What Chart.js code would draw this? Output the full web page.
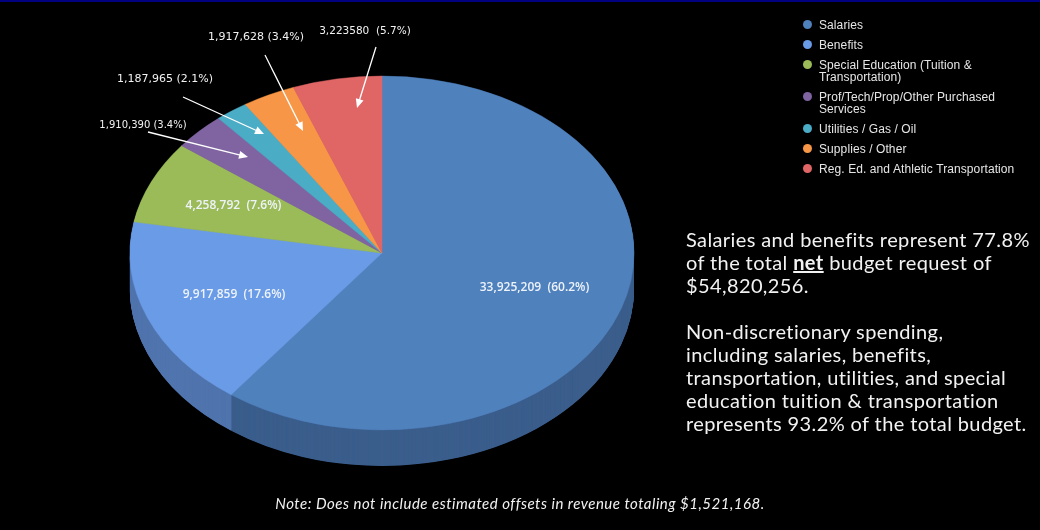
<!DOCTYPE html>
<html><head><meta charset="utf-8">
<script src="https://cdn.jsdelivr.net/npm/chart.js@4"></script>
<style>
html,body{margin:0;padding:0;background:#000;width:1040px;height:530px;overflow:hidden}
#wrap{position:relative;width:1040px;height:530px;background:#000}
#bar{position:absolute;left:0;top:0;width:1040px;height:2px;background:#000080}
canvas{position:absolute;left:0;top:0}
#legend{position:absolute;left:803px;top:19px;width:215px;font:12px/12px "Liberation Sans",Arial,sans-serif;letter-spacing:.09px;color:#e6e6e6;margin:0;padding:0;list-style:none}
#legend li{position:relative;padding-left:16px;margin-bottom:8px}
#legend i{position:absolute;left:0;top:1px;width:9px;height:9px;border-radius:50%}
#side{position:absolute;left:686px;top:228px;width:352px;font:20px/23px Lato,sans-serif;letter-spacing:.39px;color:#f2f2f2}
#side p{margin:0 0 23px 0;white-space:nowrap}
#note{position:absolute;left:0;width:1040px;top:494px;text-align:center;font:italic 15px/18px Lato,sans-serif;letter-spacing:.5px;color:#f2f2f2}
</style></head><body>
<div id="wrap">
<canvas id="c" width="1040" height="530"></canvas>
<div id="bar"></div>
<ul id="legend"></ul>
<div id="side">
<p>Salaries and benefits represent 77.8%<br>of the total <b><u>net</u></b> budget request of<br>$54,820,256.</p>
<p>Non-discretionary spending,<br>including salaries, benefits,<br>transportation, utilities, and special<br>education tuition &amp; transportation<br>represents 93.2% of the total budget.</p>
</div>
<div id="note">Note: Does not include estimated offsets in revenue totaling $1,521,168.</div>
</div>
<script>
const categories = ["Salaries","Benefits","Special Education (Tuition & Transportation)","Prof/Tech/Prop/Other Purchased Services","Utilities / Gas / Oil","Supplies / Other","Reg. Ed. and Athletic Transportation"];
const budgetValues = [33925209,9917859,4258792,1910390,1187965,1917628,3223580];
const valueLabels = ["33,925,209  (60.2%)","9,917,859  (17.6%)","4,258,792  (7.6%)","1,910,390 (3.4%)","1,187,965 (2.1%)","1,917,628 (3.4%)","3,223580  (5.7%)"];
const topColors = ["#4f81bd","#6a9be6","#9bbb59","#8064a2","#4bacc6","#f79646","#e06666"];
const sideColors = ["#3b5e8c","#5074ad","#748c43","#604b7a","#388195","#b97034","#a84c4c"];

const SQUASH = 0.702, DEPTH = 36;

function pieTransform(ctx, chart, dy){
  const a = chart.chartArea, cy = (a.top + a.bottom) / 2;
  ctx.translate(0, cy + dy);
  ctx.scale(1, SQUASH);
  ctx.translate(0, -cy);
}

const tiltPlugin = {
  id: 'tilt',
  beforeDatasetsDraw(chart){
    const ctx = chart.ctx, arcs = chart.getDatasetMeta(0).data;
    for (let d = DEPTH; d >= 0.5; d -= 0.5) {
      ctx.save();
      pieTransform(ctx, chart, d);
      arcs.forEach((arc, i) => {
        const flat = Object.create(arc);
        flat.options = Object.assign({}, arc.options, {backgroundColor: sideColors[i], borderColor: sideColors[i], borderWidth: 0});
        flat.draw(ctx);
      });
      ctx.restore();
    }
    ctx.save();
    pieTransform(ctx, chart, 0);
  },
  afterDatasetsDraw(chart){
    const ctx = chart.ctx;
    ctx.restore();
    ctx.save();
    ctx.textAlign = 'center'; ctx.textBaseline = 'middle';
    ctx.fillStyle = '#eef3fa';
    ctx.font = '600 12px "Open Sans",sans-serif';
    [[534.5,288],[234,295],[233.5,206]].forEach((p, i) => ctx.fillText(valueLabels[i], p[0], p[1]));
    const callouts = [
      {i:3, tx:143, ty:125, sx:148, sy:132, ex:248, ey:157, f:10},
      {i:4, tx:165, ty:79,  sx:183, sy:97,  ex:264, ey:134, f:11},
      {i:5, tx:256, ty:37,  sx:265, sy:55,  ex:303, ey:131, f:11},
      {i:6, tx:365, ty:31,  sx:376, sy:47,  ex:357, ey:108, f:10.5}
    ];
    callouts.forEach(c => {
      ctx.font = c.f + 'px "DejaVu Sans",sans-serif';
      ctx.fillStyle = '#f2f2f2';
      ctx.fillText(valueLabels[c.i], c.tx, c.ty);
      const ang = Math.atan2(c.ey - c.sy, c.ex - c.sx);
      ctx.strokeStyle = '#fff'; ctx.fillStyle = '#fff'; ctx.lineWidth = 1.3;
      ctx.beginPath(); ctx.moveTo(c.sx, c.sy);
      ctx.lineTo(c.ex - 6*Math.cos(ang), c.ey - 6*Math.sin(ang)); ctx.stroke();
      ctx.beginPath(); ctx.moveTo(c.ex, c.ey);
      ctx.lineTo(c.ex - 9*Math.cos(ang) - 4*Math.sin(ang), c.ey - 9*Math.sin(ang) + 4*Math.cos(ang));
      ctx.lineTo(c.ex - 9*Math.cos(ang) + 4*Math.sin(ang), c.ey - 9*Math.sin(ang) - 4*Math.cos(ang));
      ctx.closePath(); ctx.fill();
    });
    ctx.restore();
  }
};

new Chart(document.getElementById('c'), {
  type: 'pie',
  data: { labels: categories, datasets: [{ data: budgetValues, backgroundColor: topColors, borderColor: topColors, borderWidth: 0.6, radius: 252 }] },
  options: {
    responsive: false, animation: false,
    layout: { padding: { left: 0, top: 0, right: 276, bottom: 24 } },
    plugins: { legend: { display: false }, tooltip: { enabled: false } }
  },
  plugins: [tiltPlugin]
});

const ul = document.getElementById('legend');
categories.forEach((name, i) => {
  const li = document.createElement('li');
  const dot = document.createElement('i');
  dot.style.background = topColors[i];
  li.appendChild(dot);
  li.appendChild(document.createTextNode(name));
  ul.appendChild(li);
});
</script>
</body></html>
